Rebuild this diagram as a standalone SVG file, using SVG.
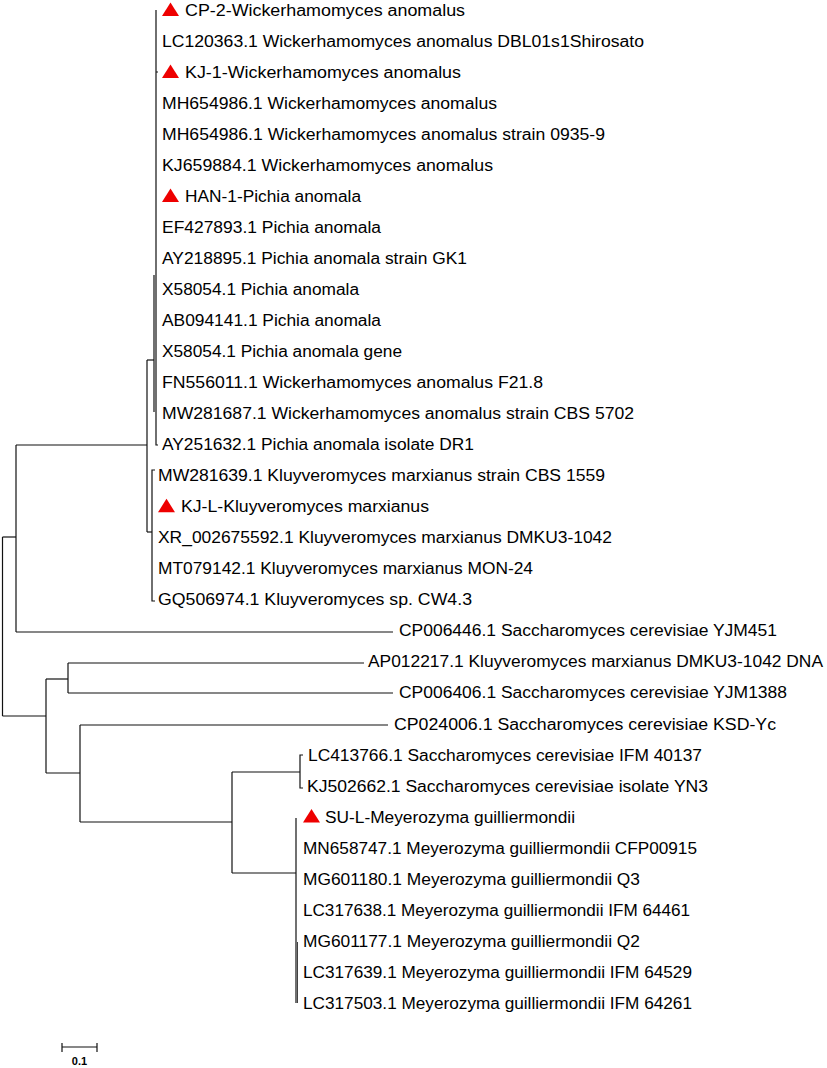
<svg xmlns="http://www.w3.org/2000/svg" xmlns:xlink="http://www.w3.org/1999/xlink" width="827" height="1068" viewBox="0 0 827 1068">
<style>
.lbl{font-family:"Liberation Sans",Arial,sans-serif;font-size:16px;fill:#000;}
.br{fill:none;stroke:#111;stroke-width:1.2;}
.tri{fill:#ee0000;}
.sc{font-family:"Liberation Sans",Arial,sans-serif;font-size:11px;font-weight:bold;fill:#000;}
</style>
<defs>
<path id="tri" d="M8.5,0 L17,13.5 L0,13.5 Z"/>
</defs>
<rect width="827" height="1068" fill="#fff"/>
<g id="connectors" class="br">
<path d="M2.5,537 V716"/>
<path d="M2.5,537 H16"/>
<path d="M16,445 V632"/>
<path d="M16,445 H147"/>
<path d="M16,632 H393"/>
<path d="M147,360 V532"/>
<path d="M147,360 H154"/>
<path d="M154,275 V412"/>
<path d="M156,10 V445 H158"/>
<path d="M156,72 H158"/>
<path d="M147,532 H152"/>
<path d="M155,470 H152 V601 H155"/>
<path d="M2.5,716 H46"/>
<path d="M46,679 V773"/>
<path d="M46,679 H68"/>
<path d="M68,663 V693"/>
<path d="M68,663 H364"/>
<path d="M68,693 H393"/>
<path d="M46,773 H80"/>
<path d="M80,725 V822"/>
<path d="M80,725 H388"/>
<path d="M80,822 H232"/>
<path d="M232,772 V873"/>
<path d="M232,772 H300"/>
<path d="M303,755 H300 V788 H303"/>
<path d="M232,873 H296"/>
<path d="M296,818 V1003"/>
<path d="M297.5,942 V1003" stroke-width="0.8"/>
</g>
<g id="n0"><use xlink:href="#tri" class="tri" x="162" y="2.5"/><text class="lbl" x="185" y="16" textLength="280" lengthAdjust="spacingAndGlyphs">CP-2-Wickerhamomyces anomalus</text></g>
<g id="n1"><text class="lbl" x="162" y="47" textLength="482" lengthAdjust="spacingAndGlyphs">LC120363.1 Wickerhamomyces anomalus DBL01s1Shirosato</text></g>
<g id="n2"><use xlink:href="#tri" class="tri" x="162" y="64.5"/><text class="lbl" x="185" y="78" textLength="276" lengthAdjust="spacingAndGlyphs">KJ-1-Wickerhamomyces anomalus</text></g>
<g id="n3"><text class="lbl" x="162" y="109.1" textLength="335" lengthAdjust="spacingAndGlyphs">MH654986.1 Wickerhamomyces anomalus</text></g>
<g id="n4"><text class="lbl" x="162" y="140.1" textLength="443" lengthAdjust="spacingAndGlyphs">MH654986.1 Wickerhamomyces anomalus strain 0935-9</text></g>
<g id="n5"><text class="lbl" x="162" y="171.1" textLength="331" lengthAdjust="spacingAndGlyphs">KJ659884.1 Wickerhamomyces anomalus</text></g>
<g id="n6"><use xlink:href="#tri" class="tri" x="162" y="188.6"/><text class="lbl" x="185" y="202.1" textLength="176" lengthAdjust="spacingAndGlyphs">HAN-1-Pichia anomala</text></g>
<g id="n7"><text class="lbl" x="162" y="233.1" textLength="219" lengthAdjust="spacingAndGlyphs">EF427893.1 Pichia anomala</text></g>
<g id="n8"><text class="lbl" x="162" y="264.2" textLength="305" lengthAdjust="spacingAndGlyphs">AY218895.1 Pichia anomala strain GK1</text></g>
<g id="n9"><text class="lbl" x="162" y="295.2" textLength="197" lengthAdjust="spacingAndGlyphs">X58054.1 Pichia anomala</text></g>
<g id="n10"><text class="lbl" x="162" y="326.2" textLength="219" lengthAdjust="spacingAndGlyphs">AB094141.1 Pichia anomala</text></g>
<g id="n11"><text class="lbl" x="162" y="357.2" textLength="240" lengthAdjust="spacingAndGlyphs">X58054.1 Pichia anomala gene</text></g>
<g id="n12"><text class="lbl" x="162" y="388.2" textLength="381" lengthAdjust="spacingAndGlyphs">FN556011.1 Wickerhamomyces anomalus F21.8</text></g>
<g id="n13"><text class="lbl" x="162" y="419.3" textLength="472" lengthAdjust="spacingAndGlyphs">MW281687.1 Wickerhamomyces anomalus strain CBS 5702</text></g>
<g id="n14"><text class="lbl" x="162" y="450.3" textLength="312" lengthAdjust="spacingAndGlyphs">AY251632.1 Pichia anomala isolate DR1</text></g>
<g id="n15"><text class="lbl" x="158" y="481.3" textLength="447" lengthAdjust="spacingAndGlyphs">MW281639.1 Kluyveromyces marxianus strain CBS 1559</text></g>
<g id="n16"><use xlink:href="#tri" class="tri" x="158" y="498.8"/><text class="lbl" x="181" y="512.3" textLength="248" lengthAdjust="spacingAndGlyphs">KJ-L-Kluyveromyces marxianus</text></g>
<g id="n17"><text class="lbl" x="158" y="543.3" textLength="454" lengthAdjust="spacingAndGlyphs">XR_002675592.1 Kluyveromyces marxianus DMKU3-1042</text></g>
<g id="n18"><text class="lbl" x="158" y="574.4" textLength="375" lengthAdjust="spacingAndGlyphs">MT079142.1 Kluyveromyces marxianus MON-24</text></g>
<g id="n19"><text class="lbl" x="158" y="605.4" textLength="314" lengthAdjust="spacingAndGlyphs">GQ506974.1 Kluyveromyces sp. CW4.3</text></g>
<g id="n20"><text class="lbl" x="399" y="636.4" textLength="378" lengthAdjust="spacingAndGlyphs">CP006446.1 Saccharomyces cerevisiae YJM451</text></g>
<g id="n21"><text class="lbl" x="368" y="667.4" textLength="455" lengthAdjust="spacingAndGlyphs">AP012217.1 Kluyveromyces marxianus DMKU3-1042 DNA</text></g>
<g id="n22"><text class="lbl" x="399" y="698.4" textLength="388" lengthAdjust="spacingAndGlyphs">CP006406.1 Saccharomyces cerevisiae YJM1388</text></g>
<g id="n23"><text class="lbl" x="394" y="729.5" textLength="382" lengthAdjust="spacingAndGlyphs">CP024006.1 Saccharomyces cerevisiae KSD-Yc</text></g>
<g id="n24"><text class="lbl" x="308" y="760.5" textLength="394" lengthAdjust="spacingAndGlyphs">LC413766.1 Saccharomyces cerevisiae IFM 40137</text></g>
<g id="n25"><text class="lbl" x="307" y="791.5" textLength="401" lengthAdjust="spacingAndGlyphs">KJ502662.1 Saccharomyces cerevisiae isolate YN3</text></g>
<g id="n26"><use xlink:href="#tri" class="tri" x="303" y="809"/><text class="lbl" x="325" y="822.5" textLength="250" lengthAdjust="spacingAndGlyphs">SU-L-Meyerozyma guilliermondii</text></g>
<g id="n27"><text class="lbl" x="303" y="853.5" textLength="394" lengthAdjust="spacingAndGlyphs">MN658747.1 Meyerozyma guilliermondii CFP00915</text></g>
<g id="n28"><text class="lbl" x="303" y="884.6" textLength="337" lengthAdjust="spacingAndGlyphs">MG601180.1 Meyerozyma guilliermondii Q3</text></g>
<g id="n29"><text class="lbl" x="303" y="915.6" textLength="387" lengthAdjust="spacingAndGlyphs">LC317638.1 Meyerozyma guilliermondii IFM 64461</text></g>
<g id="n30"><text class="lbl" x="303" y="946.6" textLength="337" lengthAdjust="spacingAndGlyphs">MG601177.1 Meyerozyma guilliermondii Q2</text></g>
<g id="n31"><text class="lbl" x="303" y="977.6" textLength="389" lengthAdjust="spacingAndGlyphs">LC317639.1 Meyerozyma guilliermondii IFM 64529</text></g>
<g id="n32"><text class="lbl" x="303" y="1008.6" textLength="389" lengthAdjust="spacingAndGlyphs">LC317503.1 Meyerozyma guilliermondii IFM 64261</text></g>
<g id="scalebar">
<path class="br" d="M62,1047 H97 M62,1043 V1052 M97,1043 V1052"/>
<text class="sc" x="79.5" y="1065" text-anchor="middle">0.1</text>
</g>
</svg>
